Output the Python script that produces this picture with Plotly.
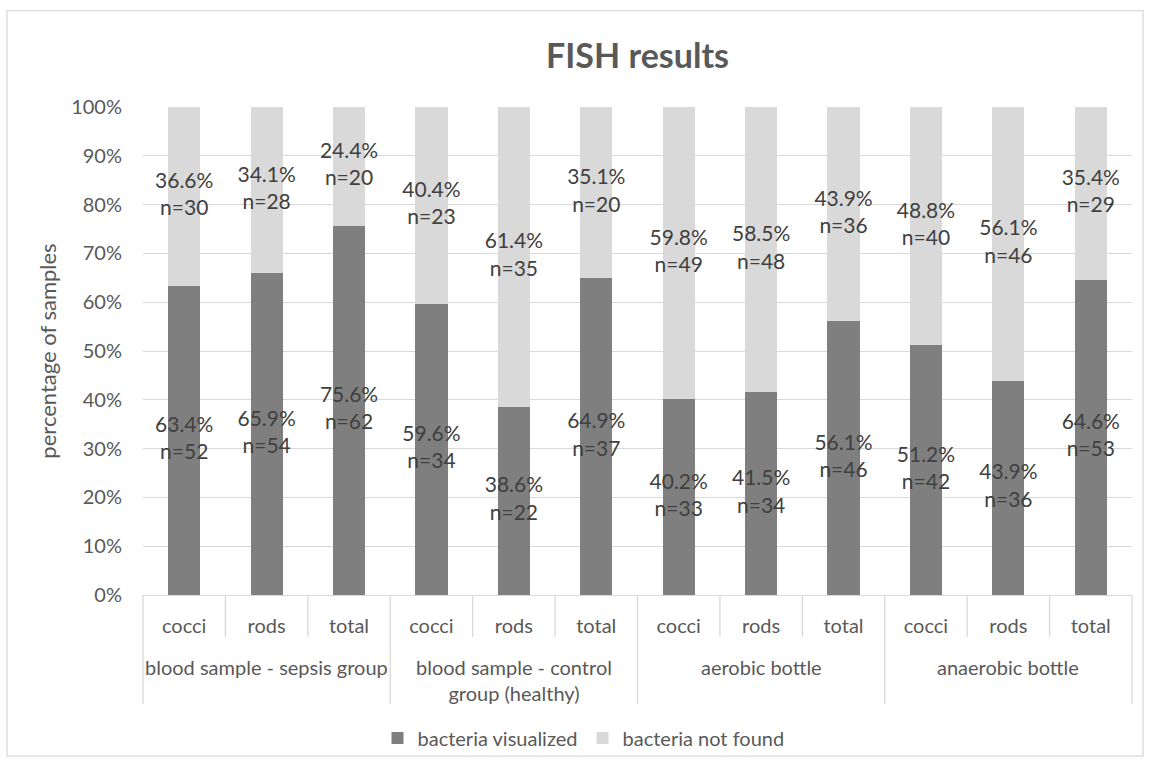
import plotly.graph_objects as go

groups = ["blood sample - sepsis group", "blood sample - control<br>group (healthy)", "aerobic bottle", "anaerobic bottle"]
subcats = ["cocci", "rods", "total"]
visualized_pct = [63.4, 65.9, 75.6, 59.6, 38.6, 64.9, 40.2, 41.5, 56.1, 51.2, 43.9, 64.6]
visualized_n = [52, 54, 62, 34, 22, 37, 33, 34, 46, 42, 36, 53]
notfound_pct = [36.6, 34.1, 24.4, 40.4, 61.4, 35.1, 59.8, 58.5, 43.9, 48.8, 56.1, 35.4]
notfound_n = [30, 28, 20, 23, 35, 20, 49, 48, 36, 40, 46, 29]
y_ticks = [0, 10, 20, 30, 40, 50, 60, 70, 80, 90, 100]

FONT = "Lato"
DARK = "#7f7f7f"
LIGHT = "#d9d9d9"
TXT = "#595959"
LBL = "#404040"
LINE = "#d9d9d9"

n_cat = len(groups) * len(subcats)
xs = list(range(n_cat))
ticktext = [subcats[i % len(subcats)] for i in xs]
vis = [v / 100 for v in visualized_pct]
nf = [v / 100 for v in notfound_pct]

fig = go.Figure()
fig.add_trace(go.Bar(x=xs, y=vis, name="bacteria visualized", marker_color=DARK,
                     width=0.39, marker_line_width=0))
fig.add_trace(go.Bar(x=xs, y=nf, name="bacteria not found", marker_color=LIGHT,
                     width=0.39, marker_line_width=0))

# data labels centred in each segment
lab_vis = [f"{p:.1f}%<br>n={n}" for p, n in zip(visualized_pct, visualized_n)]
lab_nf = [f"{p:.1f}%<br>n={n}" for p, n in zip(notfound_pct, notfound_n)]
fig.add_trace(go.Scatter(x=xs, y=[v / 2 for v in vis], mode="text", text=lab_vis,
                         textfont=dict(family=FONT, size=21, color=LBL),
                         showlegend=False, hoverinfo="skip", cliponaxis=False))
fig.add_trace(go.Scatter(x=xs, y=[v + f / 2 for v, f in zip(vis, nf)], mode="text", text=lab_nf,
                         textfont=dict(family=FONT, size=21, color=LBL),
                         showlegend=False, hoverinfo="skip", cliponaxis=False))

# category table lines (paper coordinates derived from category indices)
lo, hi = -0.5, n_cat - 0.5
def px(v):
    return (v - lo) / (hi - lo)

shapes = []
ns = len(subcats)
for b in range(n_cat + 1):
    pos = b - 0.5
    major = (b % ns == 0)
    shapes.append(dict(type="line", xref="paper", yref="paper", x0=px(pos), x1=px(pos),
                       y0=0, y1=-0.224 if major else -0.0855,
                       line=dict(color=LINE, width=1.3)))
# outer chart border
shapes.append(dict(type="rect", xref="paper", yref="paper", x0=-0.1375, x1=1.0111,
                   y0=-0.330, y1=1.1976, line=dict(color=LINE, width=1.3)))

annotations = []
for g, name in enumerate(groups):
    center = g * ns + (ns - 1) / 2
    annotations.append(dict(x=center, y=-0.118, xref="x", yref="paper", text=name,
                            showarrow=False, yanchor="top",
                            font=dict(family=FONT, size=20, color=TXT)))

fig.update_layout(
    width=1150, height=769,
    margin=dict(l=143, r=18, t=107, b=171),
    paper_bgcolor="white", plot_bgcolor="white",
    barmode="stack", bargap=0,
    title=dict(text="<b>FISH results</b>", x=0.5, xref="paper", y=0.927, yanchor="middle",
               font=dict(family=FONT, size=34, color=TXT)),
    xaxis=dict(range=[lo, hi], tickvals=xs, ticktext=ticktext, showgrid=False,
               zeroline=False, showline=True, linecolor=LINE, linewidth=1.3,
               ticks="", ticklabelstandoff=13,
               tickfont=dict(family=FONT, size=20, color=TXT)),
    yaxis=dict(range=[0, 1], tickvals=[t / 100 for t in y_ticks],
               ticktext=[f"{t}%" for t in y_ticks], showgrid=True, gridcolor=LINE,
               gridwidth=1.3, zeroline=False, showline=False, ticks="",
               ticklabelstandoff=20,
               tickfont=dict(family=FONT, size=20, color=TXT),
               title=dict(text="percentage of samples", standoff=8,
                          font=dict(family=FONT, size=22, color=TXT))),
    legend=dict(orientation="h", x=0.4454, xanchor="center", y=-0.293, yanchor="middle",
                font=dict(family=FONT, size=20, color=TXT), traceorder="normal",
                itemwidth=30, bgcolor="rgba(0,0,0,0)"),
    shapes=shapes, annotations=annotations,
    showlegend=True,
)

fig.write_html("out.html", config={"displayModeBar": False},
               post_script="document.body.style.margin='0';")
